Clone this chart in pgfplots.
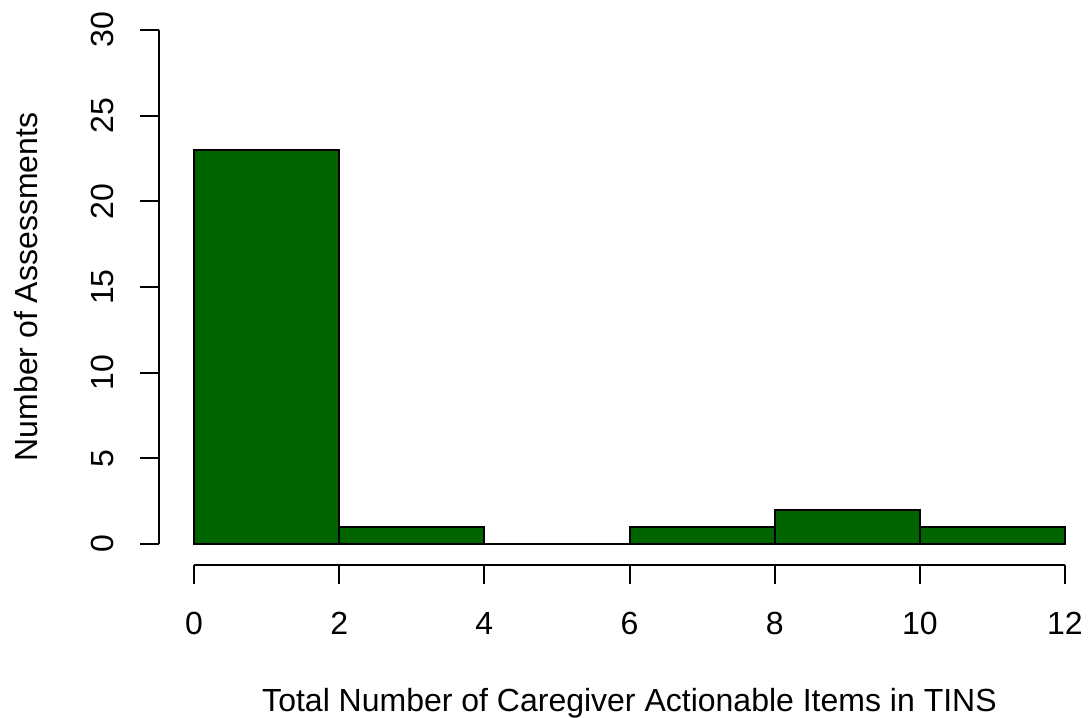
\documentclass[border=0pt]{standalone}
\usepackage{fontspec}
\setmainfont{Liberation Sans}
\usepackage{pgfplots}
\pgfplotsset{compat=1.18}
\definecolor{rdarkgreen}{RGB}{0,100,0}
\begin{document}
\fontsize{16bp}{19bp}\selectfont
\begin{tikzpicture}
\useasboundingbox (0,0) rectangle (545bp,359bp);
\begin{axis}[
  at={(79.6bp,76.7bp)}, anchor=south west,
  scale only axis, width=470.3bp, height=277.6bp,
  xmin=-0.48, xmax=12.48, ymin=-1.2, ymax=31.2,
  axis x line*=bottom, axis y line*=left,
  axis line style={draw=none},
  tick align=outside, major tick length=9.5bp,
  tick style={black, line width=1bp},
  xtick={0,2,4,6,8,10,12}, ytick={0,5,10,15,20,25,30},
  /pgf/number format/assume math mode=true,
  tick label style={font=\fontsize{16bp}{19bp}\selectfont},
  label style={font=\fontsize{16bp}{19bp}\selectfont},
  xticklabel style={anchor=base, yshift=-25.3bp},
  yticklabel style={xshift=-13.5bp, rotate=90, anchor=base},
  xlabel={Total Number of Caregiver Actionable Items in TINS},
  ylabel={Number of Assessments},
  xlabel style={at={([yshift=-73.5bp]axis description cs:0.5,0)}, anchor=base},
  ylabel style={at={([xshift=-61.1bp]axis description cs:0,0.5)}, anchor=base, rotate=0},
  clip=false,
]
\addplot[ybar interval, fill=rdarkgreen, draw=black, line width=1bp]
  coordinates {(0,23) (2,1) (4,0) (6,1) (8,2) (10,1) (12,1)};
\draw[line width=1bp] (axis cs:0,-1.2) -- (axis cs:12,-1.2);
\draw[line width=1bp] (axis cs:-0.48,0) -- (axis cs:-0.48,30);
\end{axis}
\end{tikzpicture}
\end{document}
